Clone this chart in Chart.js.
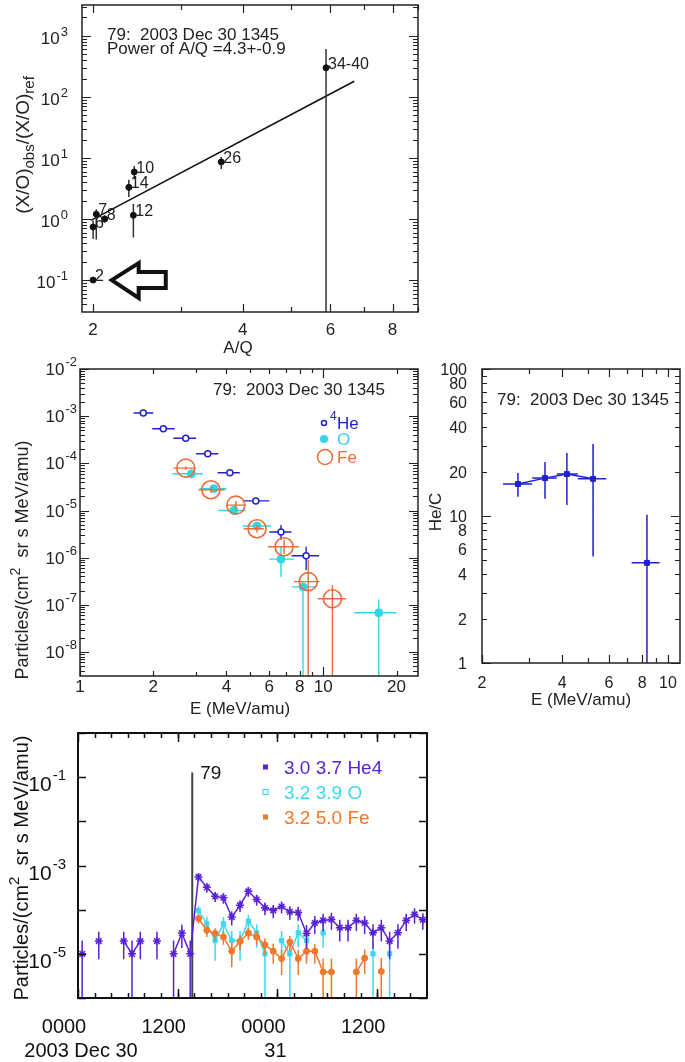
<!DOCTYPE html>
<html>
<head>
<meta charset="utf-8">
<script src="https://cdn.jsdelivr.net/npm/chart.js@4.4.0/dist/chart.umd.min.js"></script>
<style>
  html, body { margin: 0; padding: 0; background: #fff; }
  #wrap { position: relative; width: 685px; height: 1062px; }
  #wrap canvas { position: absolute; left: 0; top: 0; }
</style>
</head>
<body>
<div id="wrap">
  <canvas id="c1" width="685" height="1062"></canvas>
  <canvas id="c2" width="685" height="1062"></canvas>
  <canvas id="c3" width="685" height="1062"></canvas>
  <canvas id="c4" width="685" height="1062"></canvas>
</div>
<script>
// ---------- panel 1: abundance ratio vs A/Q ----------
const aqNames = ["2", "6", "7", "8", "12", "14", "10", "26", "34-40"];
const aqRatio = [2.0, 2.0, 2.03, 2.11, 2.41, 2.36, 2.42, 3.62, 5.88];
const enhance = [0.1, 0.74, 1.2, 1.0, 1.15, 3.3, 5.9, 8.6, 300];
const enhanceLo = [0.095, 0.47, 0.46, 0.88, 0.5, 2.3, 4.5, 6.6, 0];
const enhanceHi = [0.105, 0.94, 1.45, 1.15, 1.76, 4.4, 7.4, 10.4, 610];
const fitAQ = [1.98, 6.7];
const fitVal = [0.95, 180];

// ---------- panel 2: spectra ----------
const heE = [1.82, 2.2, 2.72, 3.35, 4.13, 5.28, 6.7, 8.5];
const heELo = [1.66, 1.98, 2.42, 3.0, 3.68, 4.67, 6.0, 7.4];
const heEHi = [2.0, 2.45, 3.0, 3.7, 4.54, 6.0, 7.4, 9.6];
const heFlux = [1.17e-3, 5.4e-4, 3.4e-4, 1.6e-4, 6.3e-5, 1.6e-5, 3.5e-6, 1.1e-6];
const heFluxLo = [1.1e-3, 5.1e-4, 3.2e-4, 1.5e-4, 5.9e-5, 1.45e-5, 2.4e-6, 5.5e-7];
const heFluxHi = [1.24e-3, 5.7e-4, 3.6e-4, 1.7e-4, 6.7e-5, 1.75e-5, 4.9e-6, 1.7e-6];

const oE = [2.87, 3.55, 4.29, 5.34, 6.7, 8.25, 16.9];
const oELo = [2.4, 3.1, 3.7, 4.65, 6.0, 7.4, 13.4];
const oEHi = [3.2, 4.0, 4.8, 6.1, 7.6, 9.3, 20.0];
const oFlux = [6.0e-5, 2.9e-5, 1.0e-5, 4.7e-6, 9.3e-7, 2.4e-7, 6.8e-8];
const oFluxLo = [5.5e-5, 2.6e-5, 8.0e-6, 4.0e-6, 3.9e-7, 0, 0];
const oFluxHi = [6.5e-5, 3.2e-5, 1.2e-5, 5.4e-6, 1.7e-6, 2.6e-7, 1.3e-7];

const feE = [2.72, 3.45, 4.37, 5.34, 6.9, 8.67, 10.9];
const feELo = [2.42, 3.07, 4.0, 4.71, 5.91, 7.58, 9.5];
const feEHi = [2.99, 3.93, 4.8, 5.7, 7.95, 9.64, 12.4];
const feFlux = [7.9e-5, 2.75e-5, 1.3e-5, 4.1e-6, 1.7e-6, 3.1e-7, 1.35e-7];
const feFluxLo = [7.3e-5, 2.4e-5, 1.0e-5, 3.4e-6, 1.2e-6, 0, 0];
const feFluxHi = [8.6e-5, 3.2e-5, 1.6e-5, 4.9e-6, 2.4e-6, 9.0e-7, 2.6e-7];

// ---------- panel 3: He/C ----------
const hcE = [2.73, 3.45, 4.17, 5.23, 8.34];
const hcELo = [2.40, 3.09, 3.82, 4.58, 7.3];
const hcEHi = [3.09, 3.82, 4.58, 5.86, 9.3];
const heC = [16.5, 18.1, 19.3, 17.9, 4.8];
const heCLo = [13.5, 13.1, 11.9, 5.3, 0];
const heCHi = [19.6, 23.3, 26.8, 30.9, 10.2];

// ---------- panel 4: time profiles, hourly bins from 2003 Dec 30 0000 ----------
const hours = Array.from({ length: 42 }, (_, i) => i + 0.5);
const he4Rate = [1.0e-5, null, 1.95e-5, null, null, 1.95e-5, 1.0e-5, 1.95e-5, null, 1.95e-5,
  null, 1.0e-5, 2.95e-5, 1.0e-5, 5.5e-4, 3.2e-4, 2.0e-4, 1.86e-4, 6.8e-5, 1.26e-4,
  2.6e-4, 1.7e-4, 1.1e-4, 9.6e-5, 1.18e-4, 8.9e-5, 8.6e-5, 2.9e-5, 5.0e-5, 5.7e-5,
  6.0e-5, 3.9e-5, 3.9e-5, 5.7e-5, 5.0e-5, 3.0e-5, 3.9e-5, 1.95e-5, 3.0e-5, 5.7e-5,
  7.8e-5, 5.9e-5];
const he4Err = [1.0e-5, null, 1.2e-5, null, null, 1.2e-5, 1.0e-5, 1.2e-5, null, 1.2e-5,
  null, 1.0e-5, 1.6e-5, 1.0e-5, 1.1e-4, 8.0e-5, 5.0e-5, 5.0e-5, 2.4e-5, 3.8e-5,
  6.5e-5, 4.8e-5, 3.5e-5, 3.2e-5, 3.6e-5, 3.0e-5, 3.0e-5, 1.6e-5, 2.2e-5, 2.4e-5,
  2.5e-5, 2.0e-5, 2.0e-5, 2.4e-5, 2.2e-5, 1.7e-5, 2.0e-5, 1.2e-5, 1.7e-5, 2.4e-5,
  3.0e-5, 2.4e-5];
const oRate = [null, null, null, null, null, null, null, null, null, null,
  null, null, null, null, 9.5e-5, 4.8e-5, 2.0e-5, 4.8e-5, 2.0e-5, 2.0e-5,
  5.5e-5, 3.0e-5, 1.0e-5, null, 2.0e-5, 1.0e-5, 3.0e-5, 2.0e-5, null, 3.0e-5,
  null, null, null, null, null, 1.0e-5, null, 1.0e-5, null, null,
  null, null];
const oErr = [null, null, null, null, null, null, null, null, null, null,
  null, null, null, null, 2.5e-5, 2.0e-5, 1.3e-5, 2.0e-5, 1.3e-5, 1.3e-5,
  2.2e-5, 1.6e-5, 1.0e-5, null, 1.3e-5, 1.0e-5, 1.6e-5, 1.3e-5, null, 1.6e-5,
  null, null, null, null, null, 1.0e-5, null, 1.0e-5, null, null,
  null, null];
const feRate = [null, null, null, null, null, null, null, null, null, null,
  null, null, null, null, 6.3e-5, 3.4e-5, 2.9e-5, 2.4e-5, 1.15e-5, 1.9e-5,
  2.95e-5, 2.4e-5, 1.6e-5, 1.15e-5, 7.8e-6, 1.85e-5, 7.8e-6, 1.15e-5, 1.15e-5, 3.9e-6,
  3.9e-6, null, null, 3.9e-6, 8.0e-6, null, 4.0e-6, null, null, null,
  null, null];
const feErr = [null, null, null, null, null, null, null, null, null, null,
  null, null, null, null, 1.5e-5, 1.0e-5, 9.0e-6, 8.0e-6, 6.5e-6, 7.0e-6,
  9.0e-6, 8.0e-6, 6.5e-6, 5.5e-6, 4.5e-6, 7.0e-6, 4.5e-6, 5.5e-6, 5.5e-6, 3.9e-6,
  3.9e-6, null, null, 3.9e-6, 4.5e-6, null, 4.0e-6, null, null, null,
  null, null];
const eventHour = 13.75;
const eventTop = 0.128;

// ---------- tick labels ----------
const p1XLabels = [2, 4, 6, 8];
const p1YExp = [-1, 0, 1, 2, 3];
const p2XLabels = [1, 2, 4, 6, 8, 10, 20];
const p2YExp = [-8, -7, -6, -5, -4, -3, -2];
const p3XLabels = [2, 4, 6, 8, 10];
const p3YLabels = [1, 2, 4, 6, 8, 10, 20, 40, 60, 80, 100];
const p4YExp = [-5, -3, -1];
const p4TimeHours = [0, 12, 24, 36];
const p4TimeLabels = ["0000", "1200", "0000", "1200"];
const p4DateHours = [0, 24];
const p4DateLabels = ["2003 Dec 30", "31"];

// ---------- drawing helpers ----------
const W = 685, H = 1062;
const INK = "#222";
const FONT = '"Liberation Sans", Arial, Helvetica, sans-serif';
const fnt = s => s + "px " + FONT;

const HE_BLUE = "#2222c8", O_CYAN = "#36d2ea", FE_ORANGE = "#ee6a36";
const HC_BLUE = "#2020d2";
const T_HE = "#5a22d8", T_O = "#3cd8ee", T_FE = "#f07828";

function txt(ctx, s, x, y, size, color, align) {
  ctx.font = fnt(size);
  ctx.fillStyle = color;
  ctx.textAlign = align || "left";
  ctx.textBaseline = "alphabetic";
  ctx.fillText(s, x, y);
}

// "10" with a raised exponent, right edge at xr
function pow10(ctx, xr, base, exp, size, esize, rise, color) {
  ctx.font = fnt(esize);
  const ew = ctx.measureText(String(exp)).width;
  ctx.font = fnt(size);
  const bw = ctx.measureText("10").width;
  const x0 = xr - ew - bw - 1;
  txt(ctx, "10", x0, base, size, color);
  txt(ctx, String(exp), x0 + bw + 1, base - rise, esize, color);
}

// rotated (bottom-to-top) text made of segments {t, size, dy}
function rotText(ctx, cx, cy, segs, color) {
  ctx.save();
  ctx.translate(cx, cy);
  ctx.rotate(-Math.PI / 2);
  let w = 0;
  segs.forEach(s => { ctx.font = fnt(s.size); s.w = ctx.measureText(s.t).width; w += s.w; });
  let x = -w / 2;
  ctx.fillStyle = color;
  ctx.textAlign = "left";
  ctx.textBaseline = "alphabetic";
  segs.forEach(s => { ctx.font = fnt(s.size); ctx.fillText(s.t, x, s.dy); x += s.w; });
  ctx.restore();
}

function frame(ctx, a, lw, color) {
  ctx.save();
  ctx.strokeStyle = color;
  ctx.lineWidth = lw;
  ctx.strokeRect(a.left, a.top, a.right - a.left, a.bottom - a.top);
  ctx.restore();
}

function xTicks(chart, vals, len, color, lw) {
  const ctx = chart.ctx, a = chart.chartArea, s = chart.scales.x;
  ctx.save();
  ctx.strokeStyle = color; ctx.lineWidth = lw;
  ctx.beginPath();
  vals.forEach(v => {
    const x = Math.round(s.getPixelForValue(v)) + 0.5;
    ctx.moveTo(x, a.bottom); ctx.lineTo(x, a.bottom - len);
    ctx.moveTo(x, a.top); ctx.lineTo(x, a.top + len);
  });
  ctx.stroke();
  ctx.restore();
}

function yTicks(chart, vals, len, color, lw) {
  const ctx = chart.ctx, a = chart.chartArea, s = chart.scales.y;
  ctx.save();
  ctx.strokeStyle = color; ctx.lineWidth = lw;
  ctx.beginPath();
  vals.forEach(v => {
    const y = Math.round(s.getPixelForValue(v)) + 0.5;
    ctx.moveTo(a.left, y); ctx.lineTo(a.left + len, y);
    ctx.moveTo(a.right, y); ctx.lineTo(a.right - len, y);
  });
  ctx.stroke();
  ctx.restore();
}

function logMajor(min, max) {
  const out = [];
  for (let e = Math.floor(Math.log10(min)); e <= Math.ceil(Math.log10(max)); e++) {
    const v = Math.pow(10, e);
    if (v >= min && v <= max) out.push(v);
  }
  return out;
}
function logMinor(min, max) {
  const out = [];
  for (let e = Math.floor(Math.log10(min)); e <= Math.ceil(Math.log10(max)); e++) {
    for (let k = 2; k <= 9; k++) {
      const v = k * Math.pow(10, e);
      if (v > min && v < max) out.push(v);
    }
  }
  return out;
}

// data builders
const pts = (xs, ys) => xs.map((x, i) => ({ x: x, y: ys[i] }));
function vBars(xs, lo, hi, floor) {
  const d = [];
  xs.forEach((x, i) => {
    if (x == null || hi[i] == null) return;
    d.push({ x: x, y: Math.max(lo[i], floor) }, { x: x, y: hi[i] }, { x: x, y: null });
  });
  return d;
}
function hBars(xlo, xhi, ys) {
  const d = [];
  ys.forEach((y, i) => { d.push({ x: xlo[i], y: y }, { x: xhi[i], y: y }, { x: xhi[i], y: null }); });
  return d;
}
function rateBars(xs, v, e, floor) {
  const d = [];
  xs.forEach((x, i) => {
    if (v[i] == null) return;
    d.push({ x: x, y: Math.max(v[i] - e[i], floor) }, { x: x, y: v[i] + e[i] }, { x: x, y: null });
  });
  return d;
}

const barSet = (data, color, width) => ({ data: data, showLine: true, borderColor: color, borderWidth: width || 1.3, pointRadius: 0, spanGaps: false, fill: false });
const markSet = (data, color, opts) => Object.assign({ data: data, showLine: false, pointRadius: 3, pointStyle: "circle",
  pointBackgroundColor: color, pointBorderColor: color, pointBorderWidth: 1 }, opts || {});

function panel(id, area, xScale, yScale, datasets, deco) {
  return new Chart(document.getElementById(id), {
    type: "line",
    data: { datasets: datasets },
    options: {
      responsive: false,
      animation: false,
      devicePixelRatio: 1,
      events: [],
      layout: { padding: { left: area[0], top: area[1], right: W - area[2], bottom: H - area[3] } },
      scales: {
        x: Object.assign({ type: "logarithmic", display: false }, xScale),
        y: Object.assign({ type: "logarithmic", display: false }, yScale)
      },
      elements: { line: { tension: 0 } },
      plugins: { legend: { display: false }, tooltip: { enabled: false } }
    },
    plugins: [{ id: id + "deco", afterDraw: deco }]
  });
}

// ---------- panel 1 ----------
const P1Y = { min: 0.03, max: 3200 };
panel("c1", [82, 5, 418, 312], { min: 1.9, max: 9.0 }, P1Y, [
  markSet(pts(aqRatio, enhance), "#111", { pointRadius: 3 }),
  barSet(vBars(aqRatio, enhanceLo, enhanceHi, P1Y.min), "#333", 1.5),
  barSet(pts(fitAQ, fitVal), "#111", 1.6)
], chart => {
  const ctx = chart.ctx, a = chart.chartArea, sx = chart.scales.x, sy = chart.scales.y;
  xTicks(chart, [3, 5, 7, 9], 5, INK, 1.2);
  xTicks(chart, p1XLabels, 8, INK, 1.2);
  yTicks(chart, logMinor(P1Y.min, P1Y.max), 5, INK, 1.2);
  yTicks(chart, logMajor(P1Y.min, P1Y.max), 9, INK, 1.2);
  frame(ctx, a, 1.5, INK);
  p1XLabels.forEach(v => txt(ctx, String(v), sx.getPixelForValue(v), 335, 17, INK, "center"));
  txt(ctx, "A/Q", a.left + 156, 353, 17, INK, "center");
  p1YExp.forEach(e => pow10(ctx, a.left - 14, sy.getPixelForValue(Math.pow(10, e)) + 8, e, 17, 13, 8, INK));
  rotText(ctx, 23, 145, [
    { t: "(X/O)", size: 19, dy: 6 }, { t: "obs", size: 15, dy: 11 },
    { t: "/(X/O)", size: 19, dy: 6 }, { t: "ref", size: 15, dy: 11 }], INK);
  txt(ctx, "79:  2003 Dec 30 1345", 107, 40, 17, INK);
  txt(ctx, "Power of A/Q =4.3+-0.9", 107, 54, 17, INK);
  aqNames.forEach((n, i) => {
    txt(ctx, n, sx.getPixelForValue(aqRatio[i]) + 2, sy.getPixelForValue(enhance[i]) + 1, 16, INK);
  });
  // hollow arrow pointing at the hydrogen/helium point
  const tip = sx.getPixelForValue(2.18), neck = sx.getPixelForValue(2.47), tail = sx.getPixelForValue(2.80);
  const yc = sy.getPixelForValue(0.1), hT = sy.getPixelForValue(0.19), hB = sy.getPixelForValue(0.051);
  const sT = sy.getPixelForValue(0.135), sB = sy.getPixelForValue(0.074);
  ctx.save();
  ctx.beginPath();
  ctx.moveTo(tip, yc); ctx.lineTo(neck, hT); ctx.lineTo(neck, sT); ctx.lineTo(tail, sT);
  ctx.lineTo(tail, sB); ctx.lineTo(neck, sB); ctx.lineTo(neck, hB); ctx.closePath();
  ctx.fillStyle = "#fff"; ctx.fill();
  ctx.lineWidth = 4; ctx.lineJoin = "miter"; ctx.strokeStyle = "#111"; ctx.stroke();
  ctx.restore();
});

// ---------- panel 2 ----------
const P2Y = { min: 3.1e-9, max: 1e-2 };
panel("c2", [80, 369, 418, 676], { min: 1, max: 24.5 }, P2Y, [
  markSet(pts(feE, feFlux), FE_ORANGE, { pointRadius: 9, pointBackgroundColor: "rgba(0,0,0,0)", pointBorderWidth: 1.6 }),
  barSet(hBars(feELo, feEHi, feFlux), FE_ORANGE, 1.4),
  barSet(vBars(feE, feFluxLo, feFluxHi, P2Y.min), FE_ORANGE, 1.4),
  markSet(pts(oE, oFlux), O_CYAN, { pointRadius: 4 }),
  barSet(hBars(oELo, oEHi, oFlux), O_CYAN, 1.4),
  barSet(vBars(oE, oFluxLo, oFluxHi, P2Y.min), O_CYAN, 1.4),
  markSet(pts(heE, heFlux), HE_BLUE, { pointRadius: 3, pointBackgroundColor: "#fff", pointBorderWidth: 1.5 }),
  barSet(hBars(heELo, heEHi, heFlux), HE_BLUE, 1.4),
  barSet(vBars(heE, heFluxLo, heFluxHi, P2Y.min), HE_BLUE, 1.4)
], chart => {
  const ctx = chart.ctx, a = chart.chartArea, sx = chart.scales.x, sy = chart.scales.y;
  xTicks(chart, [3, 5, 7, 9], 4, INK, 1.2);
  xTicks(chart, [2, 4, 6, 8, 20], 5, INK, 1.2);
  xTicks(chart, [1, 10], 9, INK, 1.2);
  yTicks(chart, logMinor(P2Y.min, P2Y.max), 5, INK, 1.2);
  yTicks(chart, logMajor(P2Y.min, P2Y.max), 9, INK, 1.2);
  frame(ctx, a, 1.5, INK);
  p2XLabels.forEach(v => txt(ctx, String(v), sx.getPixelForValue(v), 692, 17, INK, "center"));
  txt(ctx, "E (MeV/amu)", a.left + 160, 714, 17, INK, "center");
  p2YExp.forEach(e => pow10(ctx, a.left - 3, sy.getPixelForValue(Math.pow(10, e)) + 6, e, 17, 13, 9, INK));
  rotText(ctx, 22, 560, [
    { t: "Particles/(cm", size: 18, dy: 6 }, { t: "2", size: 14, dy: -2 },
    { t: "  sr s MeV/amu)", size: 18, dy: 6 }], INK);
  txt(ctx, "79:  2003 Dec 30 1345", 213, 395, 17, INK);
  // legend
  ctx.save();
  ctx.lineWidth = 1.5;
  ctx.strokeStyle = HE_BLUE;
  ctx.beginPath(); ctx.arc(324, 423, 2.5, 0, Math.PI * 2); ctx.stroke();
  txt(ctx, "4", 330, 420, 12, HE_BLUE);
  txt(ctx, "He", 337, 429, 17, HE_BLUE);
  ctx.fillStyle = O_CYAN;
  ctx.beginPath(); ctx.arc(324, 439, 4, 0, Math.PI * 2); ctx.fill();
  txt(ctx, "O", 337, 445, 17, O_CYAN);
  ctx.strokeStyle = FE_ORANGE;
  ctx.beginPath(); ctx.arc(325, 457, 7.5, 0, Math.PI * 2); ctx.stroke();
  txt(ctx, "Fe", 337, 463, 17, FE_ORANGE);
  ctx.restore();
});

// ---------- panel 3 ----------
const P3Y = { min: 1, max: 100 };
panel("c3", [482, 369, 680, 663], { min: 2, max: 11.1 }, P3Y, [
  markSet(pts(hcE, heC), HC_BLUE, { pointStyle: "rect", pointRadius: 3.5 }),
  barSet(pts(hcE.slice(0, 4), heC.slice(0, 4)), HC_BLUE, 1.5),
  barSet(hBars(hcELo, hcEHi, heC), HC_BLUE, 1.5),
  barSet(vBars(hcE, heCLo, heCHi, P3Y.min), HC_BLUE, 1.5)
], chart => {
  const ctx = chart.ctx, a = chart.chartArea, sx = chart.scales.x, sy = chart.scales.y;
  xTicks(chart, [3, 5, 7, 9], 5, INK, 1.2);
  xTicks(chart, p3XLabels, 8, INK, 1.2);
  yTicks(chart, logMinor(P3Y.min, P3Y.max), 5, INK, 1.2);
  yTicks(chart, logMajor(P3Y.min, P3Y.max), 9, INK, 1.2);
  frame(ctx, a, 1.5, INK);
  p3XLabels.forEach(v => txt(ctx, String(v), sx.getPixelForValue(v), 688, 16, INK, "center"));
  txt(ctx, "E (MeV/amu)", (a.left + a.right) / 2, 705, 17, INK, "center");
  p3YLabels.forEach(v => txt(ctx, String(v), a.left - 15, sy.getPixelForValue(v) + 6, 16, INK, "right"));
  rotText(ctx, 435, 512, [{ t: "He/C", size: 17, dy: 6 }], INK);
  txt(ctx, "79:  2003 Dec 30 1345", 497, 405, 17, INK);
});

// ---------- panel 4 ----------
const P4Y = { min: 1e-6, max: 1 };
panel("c4", [78, 733, 427, 998], { type: "linear", min: 0, max: 42 }, P4Y, [
  markSet(pts(hours, he4Rate), T_HE, { pointStyle: "star", pointRadius: 4, pointBorderWidth: 1.5 }),
  barSet(pts(hours, he4Rate), T_HE, 1.5),
  barSet(rateBars(hours, he4Rate, he4Err, P4Y.min), T_HE, 1.5),
  markSet(pts(hours, feRate), T_FE, { pointRadius: 3 }),
  barSet(pts(hours, feRate), T_FE, 1.5),
  barSet(rateBars(hours, feRate, feErr, P4Y.min), T_FE, 1.5),
  markSet(pts(hours, oRate), T_O, { pointStyle: "rect", pointRadius: 3 }),
  barSet(pts(hours, oRate), T_O, 1.5),
  barSet(rateBars(hours, oRate, oErr, P4Y.min), T_O, 1.5),
  barSet([{ x: eventHour, y: P4Y.min }, { x: eventHour, y: eventTop }], "#444", 2)
], chart => {
  const ctx = chart.ctx, a = chart.chartArea, sx = chart.scales.x, sy = chart.scales.y;
  const twoHour = [];
  for (let h = 2; h < 42; h += 2) twoHour.push(h);
  xTicks(chart, twoHour, 5, "#111", 1.5);
  xTicks(chart, p4TimeHours, 9, "#111", 1.5);
  yTicks(chart, logMajor(P4Y.min, P4Y.max), 8, "#111", 1.5);
  frame(ctx, a, 2, "#111");
  p4TimeHours.forEach((h, i) => txt(ctx, p4TimeLabels[i], sx.getPixelForValue(h) - 14, 1033, 20, "#111", "center"));
  txt(ctx, p4DateLabels[0], sx.getPixelForValue(p4DateHours[0]) + 3, 1057, 20, "#111", "center");
  txt(ctx, p4DateLabels[1], sx.getPixelForValue(p4DateHours[1]) - 2, 1057, 20, "#111", "center");
  p4YExp.forEach(e => pow10(ctx, a.left - 12, sy.getPixelForValue(Math.pow(10, e)) + 14, e, 21, 15, 11, "#111"));
  rotText(ctx, 21, 868, [
    { t: "Particles/(cm", size: 20, dy: 7 }, { t: "2", size: 15, dy: -2 },
    { t: "  sr s MeV/amu)", size: 20, dy: 7 }], "#111");
  txt(ctx, "79", sx.getPixelForValue(eventHour) + 8, 779, 19, "#111");
  // legend
  const items = [["3.0 3.7 He4", T_HE, true], ["3.2 3.9 O", T_O, false], ["3.2 5.0 Fe", T_FE, true]];
  items.forEach((it, i) => {
    const y = 767 + i * 25;
    ctx.save();
    if (it[2]) { ctx.fillStyle = it[1]; ctx.fillRect(263, y - 2.5, 5, 5); }
    else { ctx.strokeStyle = it[1]; ctx.lineWidth = 1.2; ctx.strokeRect(263, y - 2.5, 5, 5); }
    ctx.restore();
    txt(ctx, it[0], 284, y + 7, 19, it[1]);
  });
});
</script>
</body>
</html>
